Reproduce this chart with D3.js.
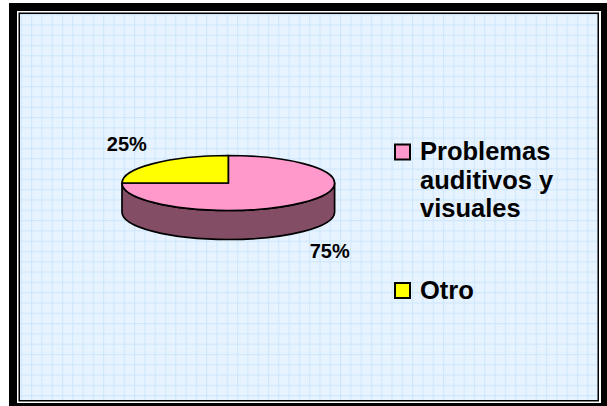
<!DOCTYPE html>
<html>
<head>
<meta charset="utf-8">
<script src="https://cdn.jsdelivr.net/npm/d3@7"></script>
<style>
  html, body { margin: 0; padding: 0; background: #ffffff; }
  svg { display: block; }
</style>
</head>
<body>
<svg id="chart" width="607" height="406"></svg>
<script>
// ---- data ----
const categories = ["Problemas auditivos y visuales", "Otro"];
const legendLines = [["Problemas", "auditivos y", "visuales"], ["Otro"]];
const values = [75, 25];
const percentLabels = ["75%", "25%"];

// ---- styles ----
const topColors = ["#FF99CC", "#FFFF00"];
const sideColors = ["#834D66", "#80801A"];

const svg = d3.select("#chart");

// background pattern
const defs = svg.append("defs");
const step = 10.3;
const pat = defs.append("pattern")
  .attr("id", "grid")
  .attr("patternUnits", "userSpaceOnUse")
  .attr("x", 20.7).attr("y", 14)
  .attr("width", step).attr("height", step);
pat.append("rect").attr("width", step).attr("height", step).attr("fill", "#E8F4FF");
for (let i = 0; i < 5; i++) {
  for (let j = 0; j < 5; j++) {
    if ((i + j) % 2 === 0) {
      pat.append("rect").attr("x", 1.3 + i * 1.8).attr("y", 1.3 + j * 1.8)
        .attr("width", 0.9).attr("height", 0.9).attr("fill", "#DDEEFF");
    }
  }
}
pat.append("rect").attr("x", 0).attr("y", 0).attr("width", step).attr("height", 1.1).attr("fill", "#CFE7FB");
pat.append("rect").attr("x", 0).attr("y", 0).attr("width", 1.1).attr("height", step).attr("fill", "#CFE7FB");

// frames
svg.append("rect")
  .attr("x", 13).attr("y", 7).attr("width", 592).attr("height", 400)
  .attr("fill", "#ffffff").attr("stroke", "#000").attr("stroke-width", 8);
svg.append("rect")
  .attr("x", 19.25).attr("y", 13.25).attr("width", 579).attr("height", 387.5)
  .attr("fill", "url(#grid)").attr("stroke", "#000").attr("stroke-width", 1.5);

// ---- 3D pie ----
const cx = 228.3, cy = 183, rx = 106.3, ry = 27.5, depth = 29;
const pie = d3.pie().sort(null).value(d => d)(values);

const pt = (a, dy = 0) => [cx + rx * Math.sin(a), cy - ry * Math.cos(a) + dy];

const g = svg.append("g");

// sides (front half only)
pie.forEach((d, i) => {
  const a0 = Math.max(d.startAngle, Math.PI / 2);
  const a1 = Math.min(d.endAngle, 3 * Math.PI / 2);
  if (a1 <= a0) return;
  const p0 = pt(a0), p1 = pt(a1), q1 = pt(a1, depth), q0 = pt(a0, depth);
  const large = (a1 - a0) > Math.PI ? 1 : 0;
  const path = `M${p0[0]},${p0[1]} A${rx},${ry} 0 ${large} 1 ${p1[0]},${p1[1]} ` +
    `L${q1[0]},${q1[1]} A${rx},${ry} 0 ${large} 0 ${q0[0]},${q0[1]} Z`;
  g.append("path").attr("d", path)
    .attr("fill", sideColors[i]).attr("stroke", "#000").attr("stroke-width", 1.7)
    .attr("stroke-linejoin", "round");
});

// tops
pie.forEach((d, i) => {
  const p0 = pt(d.startAngle), p1 = pt(d.endAngle);
  const large = (d.endAngle - d.startAngle) > Math.PI ? 1 : 0;
  const path = `M${cx},${cy} L${p0[0]},${p0[1]} A${rx},${ry} 0 ${large} 1 ${p1[0]},${p1[1]} Z`;
  g.append("path").attr("d", path)
    .attr("fill", topColors[i]).attr("stroke", "#000").attr("stroke-width", 1.7)
    .attr("stroke-linejoin", "miter");
});

// percent labels
pie.forEach((d, i) => {
  const mid = (d.startAngle + d.endAngle) / 2;
  const x = cx + rx * 1.35 * Math.sin(mid);
  const y = cy - (ry * 1.35 + 18) * Math.cos(mid) + (Math.cos(mid) < 0 ? depth : 0);
  svg.append("text")
    .attr("x", x).attr("y", y).attr("dy", "0.35em")
    .attr("text-anchor", "middle")
    .attr("font-family", "Liberation Sans, Arial, sans-serif")
    .attr("font-weight", "bold").attr("font-size", 20)
    .attr("fill", "#000")
    .text(percentLabels[i]);
});

// ---- legend ----
const legendY = [144.5, 283];
const legend = svg.append("g");
categories.forEach((c, i) => {
  legend.append("rect")
    .attr("x", 395).attr("y", legendY[i]).attr("width", 15).attr("height", 15)
    .attr("fill", topColors[i]).attr("stroke", "#000").attr("stroke-width", 2);
  const t = legend.append("text")
    .attr("font-family", "Liberation Sans, Arial, sans-serif")
    .attr("font-weight", "bold").attr("font-size", 25.5).attr("fill", "#000");
  legendLines[i].forEach((line, k) => {
    t.append("tspan").attr("x", 420).attr("y", legendY[i] + 15.7 + k * 28.3).text(line);
  });
});
</script>
</body>
</html>
